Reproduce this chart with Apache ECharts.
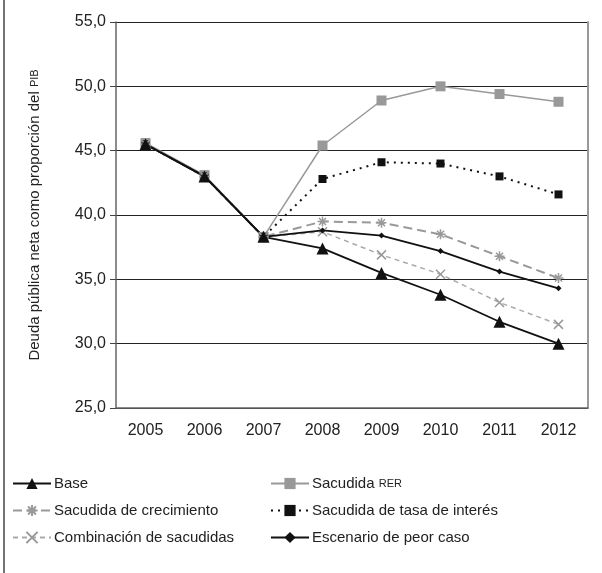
<!DOCTYPE html>
<html><head><meta charset="utf-8">
<script src="https://cdn.jsdelivr.net/npm/echarts@6/dist/echarts.min.js"></script>
<style>html,body{margin:0;padding:0;background:#fff}#c{width:602px;height:573px}</style>
</head><body><div id="c"></div>
<script>
const years = ['2005','2006','2007','2008','2009','2010','2011','2012'];
const base        = [45.5, 43.0, 38.3, 37.4, 35.5, 33.8, 31.7, 30.0];
const rer         = [45.6, 43.1, 38.3, 45.4, 48.9, 50.0, 49.4, 48.8];
const crecimiento = [45.5, 43.0, 38.3, 39.5, 39.4, 38.5, 36.8, 35.1];
const tasa        = [45.5, 43.0, 38.3, 42.8, 44.1, 44.0, 43.0, 41.6];
const combinacion = [45.5, 43.0, 38.3, 38.7, 36.9, 35.4, 33.2, 31.5];
const peorCaso    = [45.5, 43.0, 38.3, 38.8, 38.4, 37.2, 35.6, 34.3];
const yTicks = {min: 25, max: 55, interval: 5};

const FONT = 'Liberation Sans, Arial, Helvetica, sans-serif';
const names = {
  base: 'Base', rer: 'Sacudida RER', crec: 'Sacudida de crecimiento',
  tasa: 'Sacudida de tasa de interés', comb: 'Combinación de sacudidas', peor: 'Escenario de peor caso'
};
const asterisk = 'path://M5 0 L5 10 M0 5 L10 5 M1.5 1.5 L8.5 8.5 M8.5 1.5 L1.5 8.5';
const cross = 'path://M0 0 L10 10 M10 0 L0 10';

const chart = echarts.init(document.getElementById('c'), null, {renderer: 'canvas'});
const legendCommon = {
  orient: 'vertical', itemWidth: 38, itemHeight: 14, itemGap: 12, padding: 0, top: 476,
  textStyle: {fontFamily: FONT, fontSize: 15, color: '#222', padding: [0,0,0,-2],
    rich: {sc: {fontFamily: FONT, fontSize: 11, color: '#222'}}},
  formatter: n => n === names.rer ? 'Sacudida {sc|RER}' : n
};
chart.setOption({
  animation: false,
  grid: {left: 116, right: 14, top: 22, bottom: 165},
  graphic: [{type: 'line', shape: {x1: 4, y1: 0, x2: 4, y2: 573}, style: {stroke: '#444', lineWidth: 1.5}}],
  legend: [
    Object.assign({left: 12, data: [names.base, names.crec, names.comb]}, legendCommon),
    Object.assign({left: 270, data: [names.rer, names.tasa, names.peor]}, legendCommon)
  ],
  xAxis: {
    type: 'category', data: years, boundaryGap: true,
    axisLine: {lineStyle: {color: '#666', width: 1.5}},
    axisTick: {length: 5, lineStyle: {color: '#444'}},
    axisLabel: {fontFamily: FONT, fontSize: 16, color: '#222', margin: 15}
  },
  yAxis: [{
    type: 'value', min: yTicks.min, max: yTicks.max, interval: yTicks.interval,
    name: 'Deuda pública neta como proporción del {sc|PIB}', nameLocation: 'middle', nameGap: 74,
    nameTextStyle: {fontFamily: FONT, fontSize: 15, color: '#222',
      rich: {sc: {fontFamily: FONT, fontSize: 11, color: '#222'}}},
    axisLine: {show: true, lineStyle: {color: '#666', width: 1.5}},
    axisTick: {show: true, length: 6, lineStyle: {color: '#444'}},
    axisLabel: {fontFamily: FONT, fontSize: 16, color: '#222', margin: 10,
      formatter: v => v.toFixed(1).replace('.', ',')},
    splitLine: {lineStyle: {color: '#222', width: 1}}
  }, {
    type: 'value', min: yTicks.min, max: yTicks.max, interval: yTicks.interval, position: 'right',
    axisLine: {show: true, lineStyle: {color: '#999', width: 2}},
    axisTick: {show: false}, axisLabel: {show: false}, splitLine: {show: false}
  }],
  series: [
    {name: names.rer, type: 'line', data: rer, symbol: 'rect', symbolSize: 10,
      itemStyle: {color: '#999'}, lineStyle: {color: '#999', width: 1.5}},
    {name: names.tasa, type: 'line', data: tasa, symbol: 'rect', symbolSize: 8,
      itemStyle: {color: '#111'}, lineStyle: {color: '#111', width: 2, type: [2, 5]}},
    {name: names.crec, type: 'line', data: crecimiento, symbol: asterisk, symbolSize: 10,
      itemStyle: {color: 'transparent', borderColor: '#999', borderWidth: 1.5},
      lineStyle: {color: '#999', width: 2, type: [9, 5]}},
    {name: names.comb, type: 'line', data: combinacion, symbol: cross, symbolSize: 9,
      itemStyle: {color: 'transparent', borderColor: '#999', borderWidth: 1.5},
      lineStyle: {color: '#aaa', width: 1.5, type: [5, 4]}},
    {name: names.peor, type: 'line', data: peorCaso, symbol: 'diamond', symbolSize: 6,
      itemStyle: {color: '#111'}, lineStyle: {color: '#111', width: 1.8}},
    {name: names.base, type: 'line', data: base, symbol: 'triangle', symbolSize: 12,
      itemStyle: {color: '#111'}, lineStyle: {color: '#111', width: 1.8}}
  ]
});
</script></body></html>
